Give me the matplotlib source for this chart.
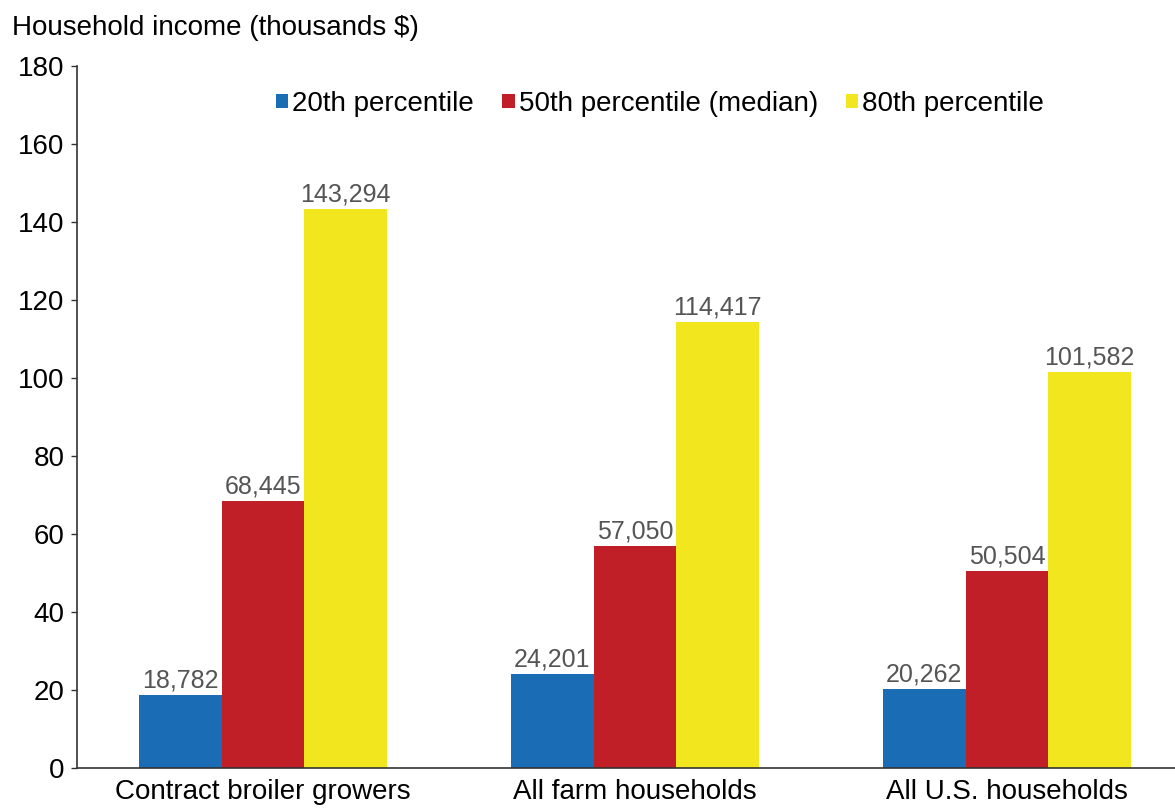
import matplotlib
matplotlib.use("Agg")
import matplotlib.pyplot as plt
import numpy as np
from matplotlib.patches import Patch

categories = ["Contract broiler growers", "All farm households", "All U.S. households"]
series_names = ["20th percentile", "50th percentile (median)", "80th percentile"]
p20 = [18782, 24201, 20262]
p50 = [68445, 57050, 50504]
p80 = [143294, 114417, 101582]
colors = ["#1a6db5", "#c01f28", "#f2e71e"]
yticks = [0, 20, 40, 60, 80, 100, 120, 140, 160, 180]

plt.rcParams['font.family'] = ['Liberation Sans', 'DejaVu Sans']

fig = plt.figure(figsize=(11.75, 8.08), dpi=100)
ax = fig.add_axes([77/1175, 40/808, 1 - 77/1175, (768-66)/808])

x = np.arange(len(categories))
w = 0.222
series = [p20, p50, p80]
for i, (vals, c) in enumerate(zip(series, colors)):
    xs = x + (i - 1) * w
    v = np.array(vals) / 1000.0
    ax.bar(xs, v, width=w, color=c, edgecolor='none')
    for xi, vi, raw in zip(xs, v, vals):
        ax.text(xi, vi + 0.6, f"{raw:,}", ha='center', va='bottom',
                fontsize=18, color='#555555')

ax.set_xlim(-0.5, 2.452)
ax.set_ylim(0, 180)
ax.set_yticks(yticks)
ax.set_xticks(x)
ax.set_xticklabels(categories, fontsize=20)
ax.tick_params(axis='x', length=0, pad=8)
ax.tick_params(axis='y', length=4, width=1, color='#333333', labelsize=20, pad=5)
for s in ['top', 'right']:
    ax.spines[s].set_visible(False)
for s in ['left', 'bottom']:
    ax.spines[s].set_color('#333333')
    ax.spines[s].set_linewidth(1.2)

handles = [Patch(facecolor=c, edgecolor='none') for c in colors]
ax.legend(handles, series_names, loc='center', bbox_to_anchor=(0.531, 0.946),
          ncol=3, frameon=False, fontsize=20, handlelength=0.45, handleheight=0.45,
          handletextpad=0.15, columnspacing=1.0, borderaxespad=0)

fig.text(12/1175, 1 - 28/808, "Household income (thousands $)", fontsize=20,
         ha='left', va='center')

fig.savefig("out.png", dpi=100)
